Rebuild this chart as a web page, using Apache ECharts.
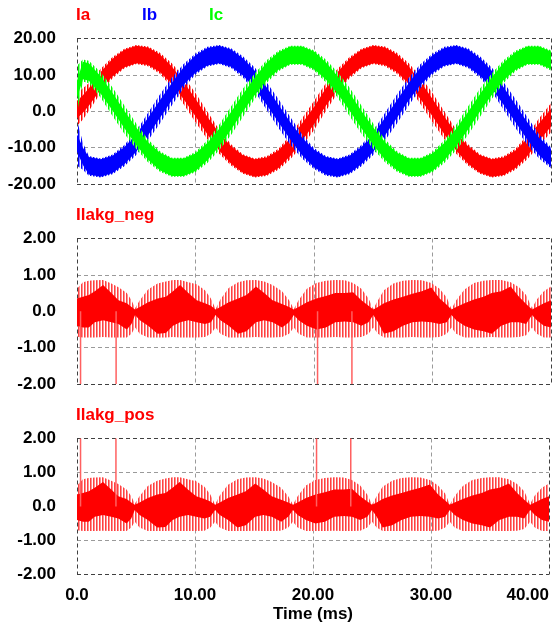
<!DOCTYPE html>
<html>
<head>
<meta charset="utf-8">
<script src="https://cdn.jsdelivr.net/npm/echarts@6/dist/echarts.min.js"></script>
<style>
  html, body { margin: 0; padding: 0; background: #fff; }
  #main { width: 552px; height: 630px; }
</style>
</head>
<body>
<div id="main"></div>
<script>
// three-phase currents, read at 1 ms steps (mid of ripple band and half height of band)
const timeMs = [0, 0.5, 1, 2, 3, 4, 5, 6, 7, 8, 9, 10, 11, 12, 13, 14, 15, 16, 17, 18, 19, 20,
  21, 22, 23, 24, 25, 26, 27, 28, 29, 30, 31, 32, 33, 34, 35, 36, 37, 38, 39, 40];

const iaMid = [0.5, 2.0, 3.9, 8.4, 12.0, 14.5, 15.6, 15.1, 13.2, 9.9, 5.7, 1.0, -3.9, -8.4, -12.0, -14.5,
  -15.6, -15.1, -13.2, -9.9, -5.7, -1.2, 3.9, 8.4, 12.0, 14.5, 15.6, 15.1, 13.2, 9.9, 5.7, 1.0,
  -3.9, -8.4, -12.0, -14.5, -15.6, -15.1, -13.2, -9.9, -5.7, -1.8];
const iaRip = [4.5, 4.3, 3.8, 3.3, 2.9, 2.7, 2.6, 2.7, 2.9, 3.3, 3.8, 4.0, 3.8, 3.3, 2.9, 2.7,
  2.6, 2.7, 2.9, 3.3, 3.8, 4.0, 3.8, 3.3, 2.9, 2.7, 2.6, 2.7, 2.9, 3.3, 3.8, 4.0,
  3.8, 3.3, 2.9, 2.7, 2.6, 2.7, 2.9, 3.3, 3.8, 4.0];

const ibMid = [-8.7, -12.4, -15.0, -15.6, -14.6, -12.2, -8.7, -4.2, 0.6, 5.4, 9.7, 13.0, 15.0, 15.6, 14.6, 12.2,
  8.7, 4.2, -0.6, -5.4, -9.7, -13.0, -15.0, -15.6, -14.6, -12.2, -8.7, -4.2, 0.6, 5.4, 9.7, 13.0,
  15.0, 15.6, 14.6, 12.2, 8.7, 4.2, -0.6, -5.4, -9.7, -12.8];
const ibRip = [6.3, 3.7, 2.7, 2.6, 2.7, 2.9, 3.3, 3.8, 4.0, 3.8, 3.3, 2.9, 2.7, 2.6, 2.7, 2.9,
  3.3, 3.8, 4.0, 3.8, 3.3, 2.9, 2.7, 2.6, 2.7, 2.9, 3.3, 3.8, 4.0, 3.8, 3.3, 2.9,
  2.7, 2.6, 2.7, 2.9, 3.3, 3.8, 4.0, 3.8, 3.3, 2.9];

const icMid = [6.0, 11.2, 10.8, 7.2, 2.6, -2.3, -6.9, -10.9, -13.8, -15.4, -15.4, -14.0, -11.1, -7.2, -2.6, 2.3,
  6.9, 10.9, 13.8, 15.4, 15.4, 14.0, 11.1, 7.2, 2.6, -2.3, -6.9, -10.9, -13.8, -15.4, -15.4, -14.0,
  -11.1, -7.2, -2.6, 2.3, 6.9, 10.9, 13.8, 15.4, 15.4, 14.0];
const icRip = [6.5, 3.0, 3.1, 3.5, 3.9, 3.9, 3.5, 3.1, 2.8, 2.6, 2.6, 2.8, 3.1, 3.5, 3.9, 3.9,
  3.5, 3.1, 2.8, 2.6, 2.6, 2.8, 3.1, 3.5, 3.9, 3.9, 3.5, 3.1, 2.8, 2.6, 2.6, 2.8,
  3.1, 3.5, 3.9, 3.9, 3.5, 3.1, 2.8, 2.6, 2.6, 2.8];

// half height of the solid part of each phase band
const phaseCoreHalf = 2.4;

// leakage current envelopes (outer = ripple spikes, core = solid part)
const leakT = [0.0, 0.5, 1.0, 1.5, 2.2, 2.9, 3.5, 4.2, 4.6, 4.9, 5.3, 6.0, 6.8, 7.5, 8.1, 8.7, 9.4, 10.1,
  10.8, 11.3, 11.7, 12.1, 12.8, 13.6, 14.3, 15.1, 15.8, 16.5, 17.3, 17.9, 18.3, 18.7, 19.4, 20.2,
  21.0, 21.8, 22.6, 23.3, 24.0, 24.6, 25.0, 25.4, 25.9, 26.7, 27.5, 28.3, 29.1, 29.9, 30.6, 31.2,
  31.6, 32.0, 32.7, 33.5, 34.3, 35.0, 35.8, 36.6, 37.3, 37.9, 38.4, 38.8, 39.4, 40.0];
const leakOuterHi = [0.62, 0.80, 0.84, 0.85, 0.86, 0.76, 0.66, 0.50, 0.30, 0.08, 0.30, 0.60, 0.76, 0.82, 0.86, 0.86, 0.80, 0.74,
  0.58, 0.35, 0.06, 0.32, 0.64, 0.80, 0.85, 0.86, 0.82, 0.72, 0.55, 0.30, 0.06, 0.30, 0.62, 0.78,
  0.84, 0.86, 0.85, 0.78, 0.62, 0.35, 0.06, 0.30, 0.58, 0.76, 0.84, 0.86, 0.85, 0.78, 0.62, 0.38,
  0.06, 0.30, 0.60, 0.78, 0.84, 0.86, 0.86, 0.80, 0.66, 0.45, 0.08, 0.32, 0.55, 0.68];
const leakOuterLo = [-0.70, -0.72, -0.72, -0.72, -0.71, -0.72, -0.72, -0.72, -0.62, -0.45, -0.62, -0.72, -0.72, -0.72, -0.71, -0.72, -0.72, -0.72,
  -0.71, -0.62, -0.45, -0.62, -0.72, -0.72, -0.72, -0.71, -0.72, -0.72, -0.71, -0.62, -0.45, -0.62, -0.72, -0.72,
  -0.72, -0.71, -0.72, -0.72, -0.71, -0.62, -0.45, -0.62, -0.72, -0.72, -0.72, -0.71, -0.72, -0.72, -0.71, -0.62,
  -0.45, -0.62, -0.72, -0.72, -0.72, -0.71, -0.72, -0.72, -0.71, -0.66, -0.45, -0.62, -0.72, -0.72];
const leakCoreHi = [0.35, 0.40, 0.45, 0.55, 0.72, 0.50, 0.30, 0.22, 0.12, 0.05, 0.12, 0.25, 0.35, 0.40, 0.55, 0.72, 0.50, 0.30,
  0.22, 0.15, 0.05, 0.12, 0.25, 0.35, 0.45, 0.68, 0.50, 0.30, 0.20, 0.12, 0.05, 0.12, 0.25, 0.35,
  0.42, 0.50, 0.50, 0.52, 0.30, 0.15, 0.05, 0.12, 0.22, 0.32, 0.40, 0.48, 0.55, 0.65, 0.35, 0.18,
  0.05, 0.12, 0.22, 0.32, 0.40, 0.50, 0.55, 0.68, 0.40, 0.20, 0.05, 0.12, 0.22, 0.30];
const leakCoreLo = [-0.40, -0.45, -0.45, -0.30, -0.25, -0.30, -0.35, -0.50, -0.35, -0.10, -0.25, -0.40, -0.62, -0.60, -0.40, -0.30, -0.25, -0.30,
  -0.35, -0.30, -0.10, -0.25, -0.40, -0.62, -0.55, -0.30, -0.25, -0.30, -0.45, -0.30, -0.10, -0.25, -0.40, -0.50,
  -0.45, -0.30, -0.28, -0.30, -0.40, -0.30, -0.10, -0.30, -0.62, -0.55, -0.40, -0.30, -0.28, -0.30, -0.35, -0.30,
  -0.10, -0.25, -0.40, -0.50, -0.55, -0.62, -0.40, -0.30, -0.30, -0.35, -0.10, -0.25, -0.40, -0.45];

// switching spikes (ms) that hit the -2 / +2 limits
const spikeTimes = [0.3, 3.3, 20.3, 23.2];
const spikeNeg = -2.0;
const spikePos = 2.0;

const xTicks = [0, 10, 20, 30, 40];

const font = '"Liberation Sans", Arial, sans-serif';
const fmt = v => (v === 0 ? '0.0' : v.toFixed(2));

// vertical stripes for the PWM ripple fringe (third column left transparent)
function stripe(dark, light) {
  const c = document.createElement('canvas');
  c.width = 3;
  c.height = 4;
  const ctx = c.getContext('2d');
  ctx.fillStyle = dark; ctx.fillRect(0, 0, 1, 4);
  ctx.fillStyle = light; ctx.fillRect(1, 0, 1, 4);
  return { image: c, repeat: 'repeat' };
}

const gridColors = ['#404040', '#9a9a9a', '#9a9a9a', '#9a9a9a', '#404040'];

function xAxisFor(gridIndex, showLabels) {
  return {
    type: 'value', gridIndex, min: xTicks[0], max: xTicks[xTicks.length - 1], interval: 10,
    axisLine: { show: false }, axisTick: { show: false },
    axisLabel: {
      show: showLabels, formatter: fmt, margin: 12, alignMaxLabel: 'right',
      color: '#000', fontSize: 17, fontWeight: 'bold', fontFamily: font
    },
    splitLine: { show: true, lineStyle: { color: gridColors, type: [4, 3], width: 1 } },
    name: showLabels ? 'Time (ms)' : '', nameLocation: 'middle', nameGap: 31,
    nameTextStyle: { color: '#000', fontSize: 17, fontWeight: 'bold', fontFamily: font }
  };
}

function yAxisFor(gridIndex, lim, step) {
  return {
    type: 'value', gridIndex, min: -lim, max: lim, interval: step,
    axisLine: { show: false }, axisTick: { show: false },
    axisLabel: { formatter: fmt, margin: 21, color: '#000', fontSize: 17, fontWeight: 'bold', fontFamily: font },
    splitLine: { show: true, lineStyle: { color: gridColors, type: [4, 3], width: 1 } }
  };
}

// filled band between lo and hi, drawn once as one polygon through the axis scales
function band(axis, xs, lo, hi, fill) {
  return {
    type: 'custom', xAxisIndex: axis, yAxisIndex: axis, silent: true, clip: true,
    data: xs.map((t, i) => [t, lo[i], hi[i]]),
    encode: { x: 0, y: [1, 2] },
    renderItem: (params, api) => {
      if (params.dataIndex !== 0) return null;
      const top = xs.map((t, i) => api.coord([t, hi[i]]));
      const bot = xs.map((t, i) => api.coord([t, lo[i]])).reverse();
      return { type: 'polygon', shape: { points: top.concat(bot) }, style: { fill, stroke: null } };
    }
  };
}

function phase(mid, rip, color, light) {
  const half = rip.map(r => Math.min(r, phaseCoreHalf));
  return [
    band(0, timeMs, mid.map((m, i) => m - rip[i]), mid.map((m, i) => m + rip[i]), stripe(color, light)),
    band(0, timeMs, mid.map((m, i) => m - half[i]), mid.map((m, i) => m + half[i]), color)
  ];
}

function leakage(axis, spikeLevel) {
  return [
    band(axis, leakT, leakOuterLo, leakOuterHi, stripe('#ff4040', '#ff9090')),
    band(axis, leakT, leakCoreLo, leakCoreHi, '#ff0000'),
    {
      type: 'line', xAxisIndex: axis, yAxisIndex: axis, symbol: 'none', silent: true,
      data: spikeTimes.flatMap(t => [[t, 0], [t, spikeLevel], [t, null]]),
      lineStyle: { color: '#ff6060', width: 1.5 }, z: 3
    }
  ];
}

const titleStyle = c => ({ color: c, fontSize: 17, fontWeight: 'bold', fontFamily: font });

const chart = echarts.init(document.getElementById('main'));
chart.setOption({
  animation: false,
  backgroundColor: '#fff',
  title: [
    { text: 'Ia', left: 76, top: 7, padding: 0, textStyle: titleStyle('#ff0000') },
    { text: 'Ib', left: 142, top: 7, padding: 0, textStyle: titleStyle('#0000ff') },
    { text: 'Ic', left: 209, top: 7, padding: 0, textStyle: titleStyle('#00ff00') },
    { text: 'Ilakg_neg', left: 76, top: 207, padding: 0, textStyle: titleStyle('#ff0000') },
    { text: 'Ilakg_pos', left: 76, top: 407, padding: 0, textStyle: titleStyle('#ff0000') }
  ],
  grid: [
    { left: 77, right: 1, top: 38.5, height: 145.5 },
    { left: 77, right: 1, top: 238.5, height: 145.5 },
    { left: 77, right: 1, top: 438.5, height: 136 }
  ],
  xAxis: [xAxisFor(0, false), xAxisFor(1, false), xAxisFor(2, true)],
  yAxis: [yAxisFor(0, 20, 10), yAxisFor(1, 2, 1), yAxisFor(2, 2, 1)],
  series: [
    ...phase(iaMid, iaRip, '#ff0000', '#ff8080'),
    ...phase(ibMid, ibRip, '#0000ff', '#8080ff'),
    ...phase(icMid, icRip, '#00ff00', '#80ff80'),
    ...leakage(1, spikeNeg),
    ...leakage(2, spikePos)
  ]
});
</script>
</body>
</html>
